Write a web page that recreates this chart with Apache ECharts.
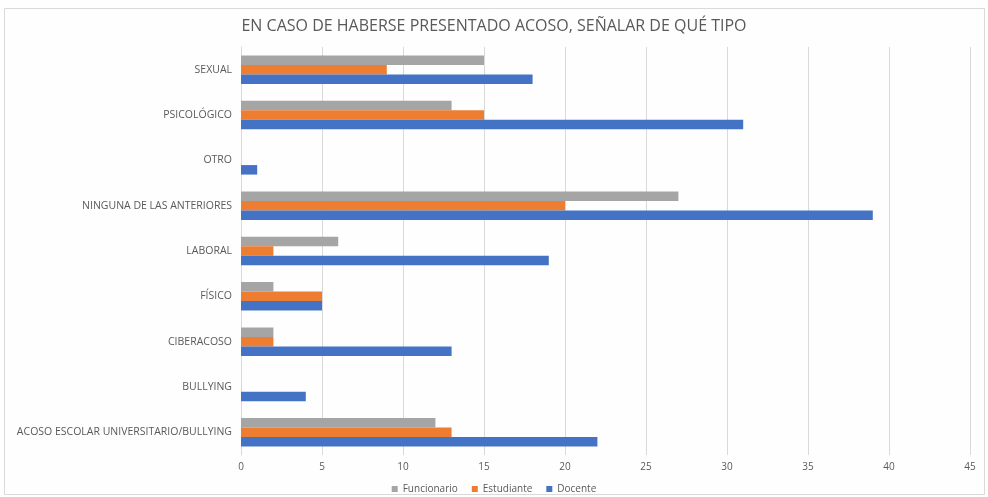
<!DOCTYPE html>
<html><head><meta charset="utf-8">
<script src="https://cdn.jsdelivr.net/npm/echarts@6/dist/echarts.min.js"></script>
<style>html,body{margin:0;padding:0;background:#fff}#c{width:988px;height:497px}</style>
</head><body><div id="c"></div>
<script>
const categories = ["ACOSO ESCOLAR UNIVERSITARIO/BULLYING","BULLYING","CIBERACOSO","FÍSICO","LABORAL","NINGUNA DE LAS ANTERIORES","OTRO","PSICOLÓGICO","SEXUAL"];
const funcionario = [12, 0, 2, 2, 6, 27, 0, 13, 15];
const estudiante  = [13, 0, 2, 5, 2, 20, 0, 15, 9];
const docente     = [22, 4, 13, 5, 19, 39, 1, 31, 18];
const xTicks = [0,5,10,15,20,25,30,35,40,45];

const chart = echarts.init(document.getElementById('c'));
const font = "'Open Sans', sans-serif";
chart.setOption({
  animation: false,
  backgroundColor: '#fefefe',
  title: {text: 'EN CASO DE HABERSE PRESENTADO ACOSO, SEÑALAR DE QUÉ TIPO', left: 'center', top: 13,
    textStyle: {fontFamily: font, fontSize: 16, fontWeight: 'normal', color: '#595959'}},
  graphic: [{type:'rect', shape:{x:4.5,y:8.5,width:980,height:486}, style:{fill:'none', stroke:'#d9d9d9', lineWidth:1}, silent:true}],
  legend: {data: ['Funcionario','Estudiante','Docente'], bottom: -2, left: 'center', itemWidth: 6, itemHeight: 6, itemGap: 14,
    icon: 'rect', textStyle: {fontFamily: font, fontSize: 10, color: '#595959'}},
  grid: {left: 241, right: 18, top: 47, bottom: 42},
  xAxis: {type: 'value', min: xTicks[0], max: xTicks[xTicks.length-1], interval: 5,
    axisLine: {show: false}, axisTick: {show: false},
    axisLabel: {fontFamily: font, fontSize: 10, color: '#595959', margin: 7},
    splitLine: {lineStyle: {color: '#d9d9d9'}}},
  yAxis: {type: 'category', data: categories,
    axisLine: {show: true, lineStyle: {color: '#d9d9d9'}}, axisTick: {show: false},
    axisLabel: {fontFamily: font, fontSize: 10.5, color: '#595959', margin: 9}},
  series: [
    {name: 'Funcionario', type: 'bar', data: funcionario, barWidth: 9.5, barGap: '0%', itemStyle: {color: '#A5A5A5'}},
    {name: 'Estudiante', type: 'bar', data: estudiante, barWidth: 9.5, barGap: '0%', itemStyle: {color: '#ED7D31'}},
    {name: 'Docente', type: 'bar', data: docente, barWidth: 9.5, barGap: '0%', itemStyle: {color: '#4472C4'}}
  ]
});
</script></body></html>
